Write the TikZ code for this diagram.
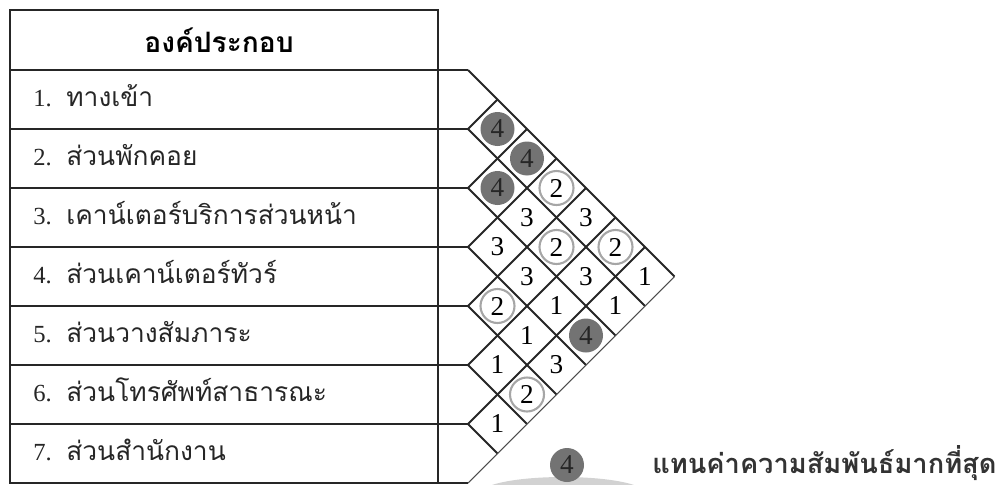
\documentclass[tikz,border=0pt]{standalone}
\usepackage{fontspec}
\usepackage{tikz}
\usetikzlibrary{positioning}
\newfontfamily\thaifont[Script=Thai]{Loma}
\newfontfamily\numfont{Liberation Serif}

\tikzset{
  tblline/.style={line width=1.1pt, black!85},
  itemnum/.style={anchor=base west, inner sep=0pt, font=\numfont\fontsize{14}{16}\selectfont, text=black!85},
  itemtext/.style={anchor=base west, inner sep=0pt, font=\thaifont\fontsize{15}{17}\selectfont, text=black!85},
  cellnum/.style={inner sep=0pt, font=\numfont\fontsize{15.5}{16}\selectfont},
  ringcell/.style={cellnum, circle, draw=gray!70, line width=1.2pt, minimum size=0.68cm},
  darkcell/.style={cellnum, circle, fill=black!55, text=black!85, minimum size=0.68cm}
}

\begin{document}
\begin{tikzpicture}[x=0.02cm, y=-0.02cm]
\useasboundingbox (0,0) rectangle (998,484);
% --- table ---
\draw[tblline] (10,10) rectangle (438,483);
\foreach \k in {0,...,7} {
  \draw[tblline] (10,70+59*\k) -- (468,70+59*\k);
}
\node[font=\thaifont\bfseries\fontsize{16}{18}\selectfont] (head) at (219,40) {องค์ประกอบ};
\foreach \n/\t in {1/ทางเข้า, 2/ส่วนพักคอย, 3/เคาน์เตอร์บริการส่วนหน้า, 4/ส่วนเคาน์เตอร์ทัวร์,
                   5/ส่วนวางสัมภาระ, 6/ส่วนโทรศัพท์สาธารณะ, 7/ส่วนสำนักงาน} {
  \node[itemnum] (num\n) at (33,47+59*\n) {\n.};
  \node[itemtext] (item\n) at (66,47+59*\n) {\t};
}
% --- relation grid ---
\foreach \k in {0,...,6} {
  \draw[tblline] (468,70+59*\k) -- ++({(7-\k)*29.5},{(7-\k)*29.5});
}
\foreach \k in {1,...,6} {
  \draw[tblline] (468,70+59*\k) -- ++({\k*29.5},{-\k*29.5});
}
\draw[line width=0.6pt, black!70] (468,483) -- ++(206.5,-206.5);
\foreach \i/\j/\v/\s in {1/2/4/darkcell, 1/3/4/darkcell, 2/3/4/darkcell, 1/4/2/ringcell,
    2/4/3/cellnum, 1/5/3/cellnum, 3/4/3/cellnum, 2/5/2/ringcell, 1/6/2/ringcell,
    3/5/3/cellnum, 2/6/3/cellnum, 1/7/1/cellnum, 4/5/2/ringcell, 3/6/1/cellnum,
    2/7/1/cellnum, 4/6/1/cellnum, 3/7/4/darkcell, 5/6/1/cellnum, 4/7/3/cellnum,
    5/7/2/ringcell, 6/7/1/cellnum} {
  \node[\s] (c\i\j) at ({468+(\j-\i)*29.5},{70+(\i+\j-1)*29.5}) {\v};
}
% --- key ---
\fill[gray!35] (563,493) ellipse (82 and 16);
\node[darkcell] (key) at (567,465) {4};
\node[font=\thaifont\bfseries\fontsize{15.5}{17}\selectfont, text=black!80, anchor=west, inner sep=0pt]
  (keytext) at (652,463) {แทนค่าความสัมพันธ์มากที่สุด};
\end{tikzpicture}
\end{document}
